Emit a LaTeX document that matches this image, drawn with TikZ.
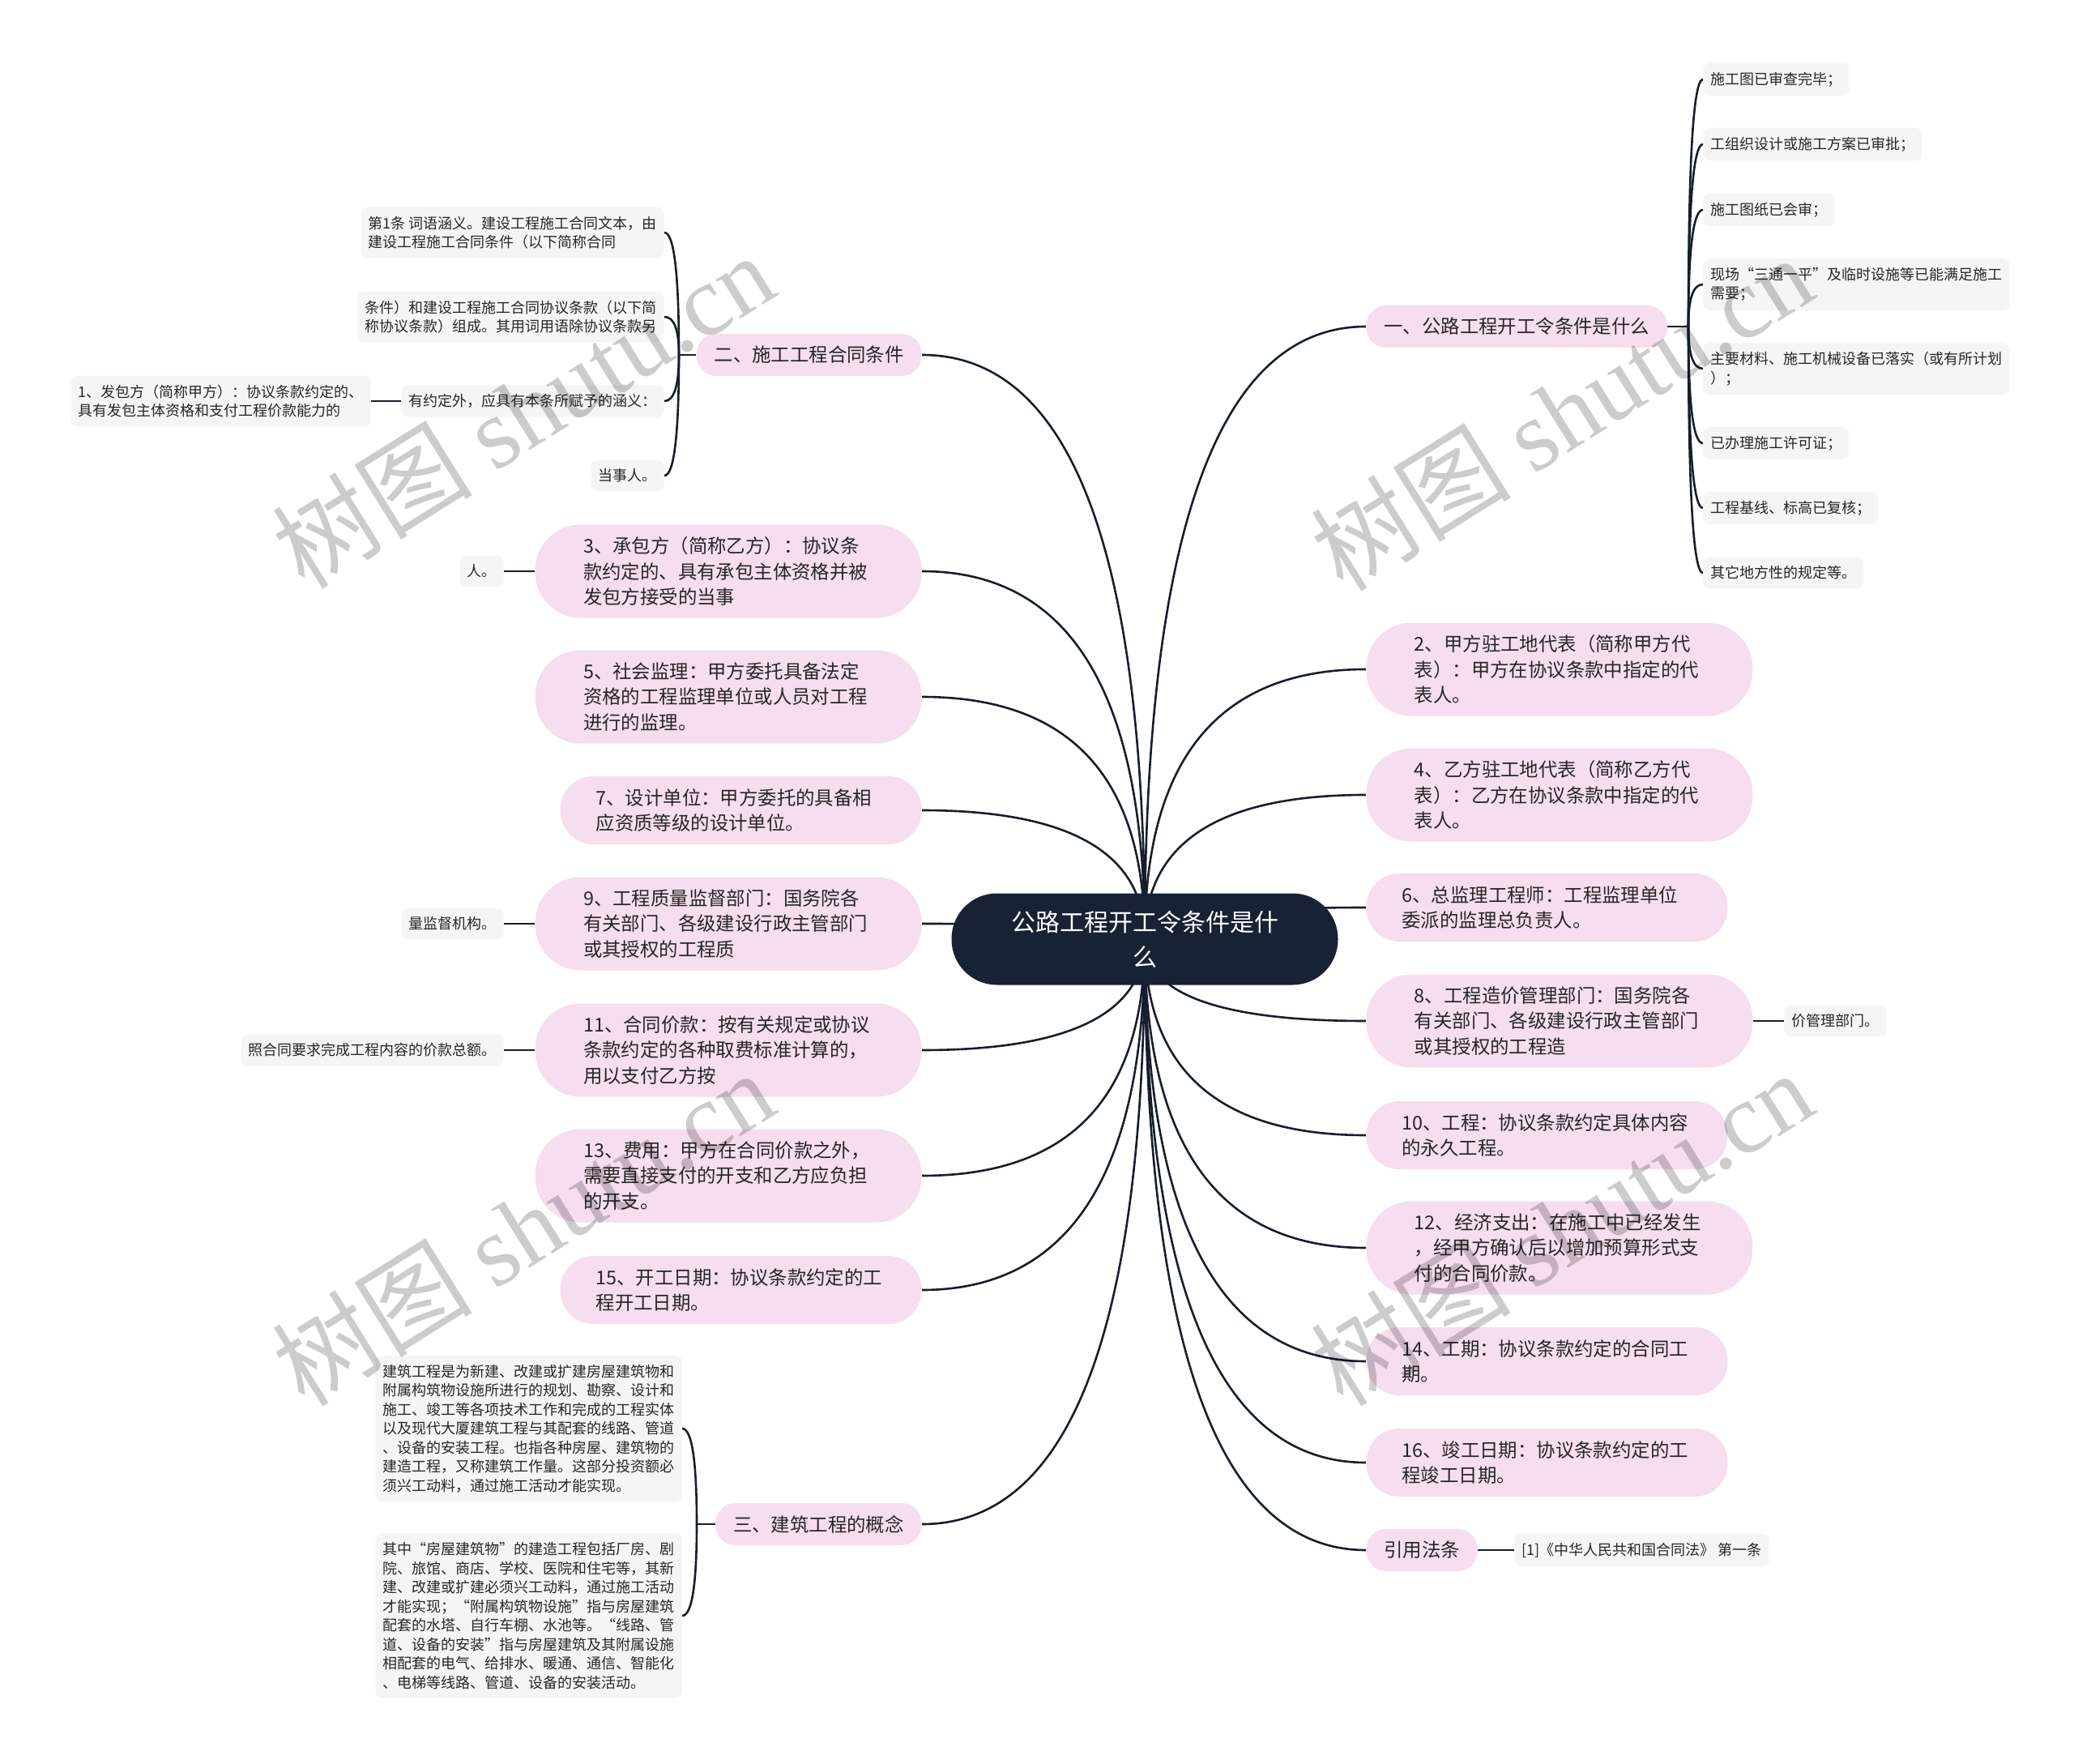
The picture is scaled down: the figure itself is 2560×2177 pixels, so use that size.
\documentclass[tikz,border=0pt]{standalone}
\usepackage{fontspec}
\setmainfont{Noto Sans CJK SC}
\newfontfamily\wmserif{Liberation Serif}
\usetikzlibrary{calc}
\pgfdeclarelayer{bg}
\pgfsetlayers{bg,main}
\definecolor{pinkfill}{RGB}{246,221,240}
\definecolor{grayfill}{RGB}{245,245,245}
\definecolor{navy}{RGB}{23,34,52}
\definecolor{linecol}{RGB}{22,30,45}
\definecolor{txt}{RGB}{38,38,38}
\tikzset{
  root/.style={fill=navy, text=white, rounded corners=28pt, minimum width=238.5pt, minimum height=56.5pt, align=center, inner xsep=6pt, inner ysep=10pt, font=\fontsize{15pt}{21.5pt}\selectfont},
  pkbase/.style={fill=pinkfill, text=txt, inner ysep=7pt, font=\fontsize{11.7pt}{15.75pt}\selectfont},
  pk1/.style={pkbase, rounded corners=12.5pt, inner xsep=11pt, minimum height=26pt},
  pk2/.style={pkbase, rounded corners=20.5pt, inner xsep=22pt, text width=179pt, align=left, minimum height=42pt, minimum width=223pt},
  pk3/.style={pkbase, rounded corners=28pt, inner xsep=29.5pt, text width=179pt, align=left, minimum height=57.5pt, minimum width=238.5pt},
  gy/.style={fill=grayfill, text=txt, rounded corners=4pt, inner xsep=4.5pt, inner ysep=5.5pt, align=left, font=\fontsize{9pt}{11.75pt}\selectfont},
  conn/.style={draw=linecol, line width=1.3pt},
  wm/.style={text=black, text opacity=0.2, font=\fontsize{62pt}{62pt}\selectfont, inner sep=0pt},
}
\newcommand\mmlink[2]{\draw[conn] (#1) .. controls ($(#1)!0.6667!(#1 |- #2)$) and ($(#2)!0.6667!(#1 |- #2)$) .. (#2);}
\begin{document}
\begin{tikzpicture}[x=0.5pt,y=-0.5pt]
\useasboundingbox (0,0) rectangle (2560,2177);

% root
\node[root] (c) at (1413,1159) {公路工程开工令条件是什\\么};

% right main nodes
\node[pk1, anchor=west] (n1) at (1686,403) {一、公路工程开工令条件是什么};
\node[pk3, anchor=west] (n2) at (1686,826) {2、甲方驻工地代表（简称甲方代\\表）：甲方在协议条款中指定的代\\表人。};
\node[pk3, anchor=west] (n4) at (1686,981) {4、乙方驻工地代表（简称乙方代\\表）：乙方在协议条款中指定的代\\表人。};
\node[pk2, anchor=west] (n6) at (1686,1120) {6、总监理工程师：工程监理单位\\委派的监理总负责人。};
\node[pk3, anchor=west] (n8) at (1686,1260) {8、工程造价管理部门：国务院各\\有关部门、各级建设行政主管部门\\或其授权的工程造};
\node[pk2, anchor=west] (n10) at (1686,1401) {10、工程：协议条款约定具体内容\\的永久工程。};
\node[pk3, anchor=west] (n12) at (1686,1540) {12、经济支出：在施工中已经发生\\，经甲方确认后以增加预算形式支\\付的合同价款。};
\node[pk2, anchor=west] (n14) at (1686,1680) {14、工期：协议条款约定的合同工\\期。};
\node[pk2, anchor=west] (n16) at (1686,1805) {16、竣工日期：协议条款约定的工\\程竣工日期。};
\node[pk1, anchor=west] (law) at (1686,1913) {引用法条};

% left main nodes
\node[pk1, anchor=east] (e2) at (1138,438) {二、施工工程合同条件};
\node[pk3, anchor=east] (n3) at (1138,705) {3、承包方（简称乙方）：协议条\\款约定的、具有承包主体资格并被\\发包方接受的当事};
\node[pk3, anchor=east] (n5) at (1138,860) {5、社会监理：甲方委托具备法定\\资格的工程监理单位或人员对工程\\进行的监理。};
\node[pk2, anchor=east] (n7) at (1138,1000) {7、设计单位：甲方委托的具备相\\应资质等级的设计单位。};
\node[pk3, anchor=east] (n9) at (1138,1140) {9、工程质量监督部门：国务院各\\有关部门、各级建设行政主管部门\\或其授权的工程质};
\node[pk3, anchor=east] (n11) at (1138,1296) {11、合同价款：按有关规定或协议\\条款约定的各种取费标准计算的，\\用以支付乙方按};
\node[pk3, anchor=east] (n13) at (1138,1451) {13、费用：甲方在合同价款之外，\\需要直接支付的开支和乙方应负担\\的开支。};
\node[pk2, anchor=east] (n15) at (1138,1592) {15、开工日期：协议条款约定的工\\程开工日期。};
\node[pk1, anchor=east] (e3) at (1138,1881) {三、建筑工程的概念};

% right gray children of n1
\node[gy, anchor=west] (a1) at (2102,98) {施工图已审查完毕；};
\node[gy, anchor=west] (a2) at (2102,178) {工组织设计或施工方案已审批；};
\node[gy, anchor=west] (a3) at (2102,259) {施工图纸已会审；};
\node[gy, anchor=west] (a4) at (2102,351) {现场“三通一平”及临时设施等已能满足施工\\需要；};
\node[gy, anchor=west] (a5) at (2102,455) {主要材料、施工机械设备已落实（或有所计划\\）；};
\node[gy, anchor=west] (a6) at (2102,547) {已办理施工许可证；};
\node[gy, anchor=west] (a7) at (2102,627) {工程基线、标高已复核；};
\node[gy, anchor=west] (a8) at (2102,707) {其它地方性的规定等。};

\node[gy, anchor=west] (n8c) at (2202,1260) {价管理部门。};
\node[gy, anchor=west] (lawc) at (1869,1913) {[1]《中华人民共和国合同法》 第一条};

% left gray children
\node[gy, anchor=east] (b1) at (820,287) {第1条 词语涵义。建设工程施工合同文本，由\\建设工程施工合同条件（以下简称合同};
\node[gy, anchor=east] (b2) at (820,391) {条件）和建设工程施工合同协议条款（以下简\\称协议条款）组成。其用词用语除协议条款另};
\node[gy, anchor=east] (b3) at (820,495) {有约定外，应具有本条所赋予的涵义：};
\node[gy, anchor=east] (b3c) at (458,495) {1、发包方（简称甲方）：协议条款约定的、\\具有发包主体资格和支付工程价款能力的};
\node[gy, anchor=east] (b4) at (820,587) {当事人。};

\node[gy, anchor=east] (n3c) at (622,705) {人。};
\node[gy, anchor=east] (n9c) at (622,1140) {量监督机构。};
\node[gy, anchor=east] (n11c) at (622,1296) {照合同要求完成工程内容的价款总额。};

\node[gy, anchor=east] (d1) at (842,1763) {建筑工程是为新建、改建或扩建房屋建筑物和\\附属构筑物设施所进行的规划、勘察、设计和\\施工、竣工等各项技术工作和完成的工程实体\\以及现代大厦建筑工程与其配套的线路、管道\\、设备的安装工程。也指各种房屋、建筑物的\\建造工程，又称建筑工作量。这部分投资额必\\须兴工动料，通过施工活动才能实现。};
\node[gy, anchor=east] (d2) at (842,1994) {其中“房屋建筑物”的建造工程包括厂房、剧\\院、旅馆、商店、学校、医院和住宅等，其新\\建、改建或扩建必须兴工动料，通过施工活动\\才能实现；“附属构筑物设施”指与房屋建筑\\配套的水塔、自行车棚、水池等。“线路、管\\道、设备的安装”指与房屋建筑及其附属设施\\相配套的电气、给排水、暖通、通信、智能化\\、电梯等线路、管道、设备的安装活动。};

\coordinate (s1) at (2084,403);
\coordinate (s2) at (838,438);
\coordinate (s3) at (860,1881);

\begin{pgfonlayer}{bg}
  \fill[white] (0,0) rectangle (2560,2177);
  \foreach \t in {n1,n2,n4,n6,n8,n10,n12,n14,n16,law} {\mmlink{c.center}{\t.west}}
  \foreach \t in {e2,n3,n5,n7,n9,n11,n13,n15,e3} {\mmlink{c.center}{\t.east}}
  \draw[conn] (n1.east) -- (s1);
  \foreach \t in {a1,a2,a3,a4,a5,a6,a7,a8} {\mmlink{s1}{\t.west}}
  \draw[conn] (e2.west) -- (s2);
  \foreach \t in {b1,b2,b3,b4} {\mmlink{s2}{\t.east}}
  \draw[conn] (e3.west) -- (s3);
  \foreach \t in {d1,d2} {\mmlink{s3}{\t.east}}
  \draw[conn] (n8.east) -- (n8c.west);
  \draw[conn] (law.east) -- (lawc.west);
  \draw[conn] (n3.west) -- (n3c.east);
  \draw[conn] (n9.west) -- (n9c.east);
  \draw[conn] (n11.west) -- (n11c.east);
  \draw[conn] (b3.west) -- (b3c.east);
\end{pgfonlayer}

% watermarks
\node[wm, rotate=32] (wm1) at (645,506) {树图 {\wmserif shutu.cn}};
\node[wm, rotate=32] (wm2) at (1927,509) {树图 {\wmserif shutu.cn}};
\node[wm, rotate=32] (wm3) at (645,1515) {树图 {\wmserif shutu.cn}};
\node[wm, rotate=32] (wm4) at (1927,1515) {树图 {\wmserif shutu.cn}};
\end{tikzpicture}
\end{document}
